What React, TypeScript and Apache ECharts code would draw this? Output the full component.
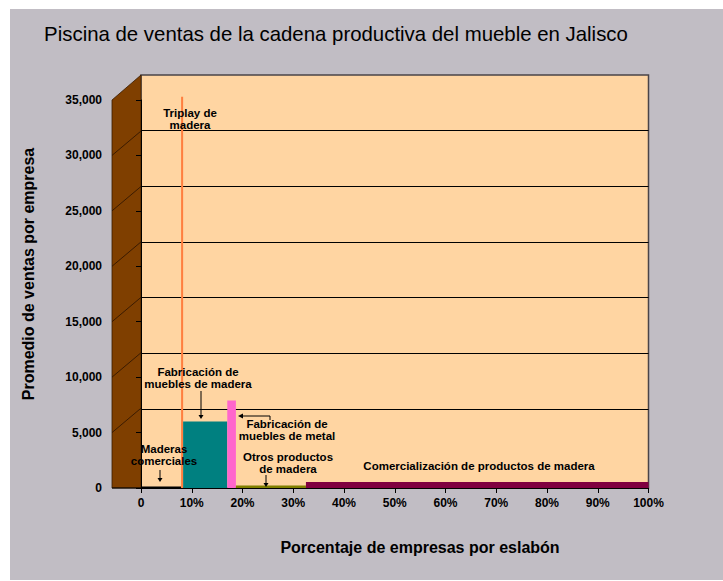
import React, { useEffect, useRef } from "react";
import * as echarts from "echarts";

// ---- data ----
const segments = [
  "Maderas comerciales",
  "Triplay de madera",
  "Fabricación de muebles de madera",
  "Fabricación de muebles de metal",
  "Otros productos de madera",
  "Comercialización de productos de madera",
];
const firmShare = [7.9, 0.4, 8.7, 1.7, 13.8, 67.5]; // % of firms per link
const avgSales = [130, 35300, 6000, 7900, 220, 550]; // average sales per firm
const segmentColors = ["#000000", "#FF7F3F", "#008080", "#FF66CC", "#808000", "#800040"];
const yMax = 35000;
const yStep = 5000;
const xMax = 100;
const xStep = 10;
const wallTickValues = [5000, 10000, 15000, 20000, 25000, 30000];

const titleText = "Piscina de ventas de la cadena productiva del mueble en Jalisco";
const yTitle = "Promedio de ventas por empresa";
const xTitle = "Porcentaje de empresas por eslabón";

const FONT = '"Liberation Sans", Arial, Helvetica, sans-serif';

export default function App() {
  const ref = useRef<HTMLDivElement>(null);

  useEffect(() => {
    if (!ref.current) return;
    const chart = echarts.init(ref.current, undefined, { renderer: "svg" });

    let acc = 0;
    const barData = firmShare.map((w, i) => {
      const start = acc;
      acc += w;
      return { name: segments[i], value: [start, acc, avgSales[i]] };
    });

    const depthX = 29;
    const depthY = 25;

    const label = (text: string, x: number, y: number, extra: any = {}) => ({
      type: "text",
      z: 20,
      style: {
        text,
        x,
        y,
        align: "center",
        verticalAlign: "middle",
        font: `bold 11.5px ${FONT}`,
        lineHeight: 12,
        fill: "#000",
        ...extra,
      },
    });

    const downArrow = (x: number, y1: number, y2: number) => [
      { type: "line", z: 20, shape: { x1: x, y1, x2: x, y2: y2 - 3 }, style: { stroke: "#000", lineWidth: 1 } },
      { type: "polygon", z: 20, shape: { points: [[x - 2.5, y2 - 4], [x + 2.5, y2 - 4], [x, y2]] }, style: { fill: "#000" } },
    ];

    const option: any = {
      animation: false,
      backgroundColor: "#FFFFFF",
      grid: [
        { left: 141, right: 74.5, top: 100, bottom: 93, containLabel: false },
        { left: 141, right: 74.5, top: 75, bottom: 116.5, containLabel: false },
        {
          left: 141, right: 74.5, top: 75, bottom: 93, show: true,
          backgroundColor: "#FFD5A2", borderColor: "#4a4448", borderWidth: 1.5,
        },
      ],
      xAxis: [
        {
          gridIndex: 0, type: "value", min: 0, max: xMax, interval: xStep, z: 5,
          axisLine: { show: true, lineStyle: { color: "#000", width: 1 } },
          axisTick: { show: true, length: 5, lineStyle: { color: "#000" } },
          axisLabel: {
            margin: 9, color: "#000", fontWeight: "bold", fontSize: 12, fontFamily: FONT,
            formatter: (v: number) => (v === 0 ? "0" : v + "%"),
          },
          splitLine: { show: false },
        },
        { gridIndex: 1, type: "value", min: 0, max: xMax, show: false },
        { gridIndex: 2, type: "value", min: 0, max: xMax, show: false },
      ],
      yAxis: [
        {
          gridIndex: 0, type: "value", min: 0, max: yMax, interval: yStep, offset: depthX, z: 5,
          axisLine: { show: true, lineStyle: { color: "#000", width: 1 } },
          axisTick: { show: true, length: 5, lineStyle: { color: "#000" } },
          axisLabel: {
            margin: 10, color: "#000", fontWeight: "bold", fontSize: 12, fontFamily: FONT,
            formatter: (v: number) => v.toLocaleString("en-US"),
          },
          splitLine: { show: false },
        },
        {
          gridIndex: 1, type: "value", min: 0, max: yMax, interval: yStep,
          axisLine: { show: false }, axisTick: { show: false }, axisLabel: { show: false },
          splitLine: { show: true, showMinLine: false, showMaxLine: false, lineStyle: { color: "#000", width: 1 } },
        },
        { gridIndex: 2, type: "value", min: 0, max: yMax, show: false },
      ],
      series: [
        {
          name: "pared",
          type: "custom",
          xAxisIndex: 0,
          yAxisIndex: 0,
          clip: false,
          z: 1,
          silent: true,
          data: [[0, 0]],
          renderItem: (_p: any, api: any) => {
            const b = api.coord([0, 0]);
            const t = api.coord([0, yMax]);
            const children: any[] = [
              {
                type: "polygon",
                shape: {
                  points: [
                    [b[0] - depthX, b[1]],
                    [t[0] - depthX, t[1]],
                    [t[0], t[1] - depthY],
                    [b[0], b[1]],
                  ],
                },
                style: { fill: "#7F3F00", stroke: "#3a1c00", lineWidth: 0.8 },
              },
            ];
            wallTickValues.forEach((v) => {
              const p = api.coord([0, v]);
              children.push({
                type: "line",
                shape: { x1: p[0] - depthX, y1: p[1], x2: p[0], y2: p[1] - depthY + 0.6 },
                style: { stroke: "#2a1200", lineWidth: 0.8 },
              });
            });
            children.push({
              type: "line",
              shape: { x1: b[0] - depthX, y1: b[1], x2: b[0], y2: b[1] },
              style: { stroke: "#000", lineWidth: 1 },
            });
            return { type: "group", children };
          },
        },
        {
          name: "Promedio de ventas por empresa",
          type: "custom",
          xAxisIndex: 0,
          yAxisIndex: 0,
          z: 2,
          encode: { x: [0, 1], y: 2 },
          data: barData,
          renderItem: (params: any, api: any) => {
            const a = api.coord([api.value(0), api.value(2)]);
            const b = api.coord([api.value(1), 0]);
            return {
              type: "rect",
              shape: { x: a[0], y: a[1], width: b[0] - a[0], height: b[1] - a[1] },
              style: { fill: segmentColors[params.dataIndex] },
            };
          },
        },
      ],
      graphic: [
        { type: "rect", z: -100, silent: true, shape: { x: 10, y: 9, width: 713, height: 571 }, style: { fill: "#C1BDC4" } },
        {
          type: "text", z: 20,
          style: { text: titleText, x: 336, y: 34, align: "center", verticalAlign: "middle", font: `20.4px ${FONT}`, fill: "#000" },
        },
        {
          type: "text", z: 20, x: 28, y: 274, rotation: Math.PI / 2,
          style: { text: yTitle, x: 0, y: 0, align: "center", verticalAlign: "middle", font: `bold 16px ${FONT}`, fill: "#000" },
        },
        {
          type: "text", z: 20,
          style: { text: xTitle, x: 420, y: 547, align: "center", verticalAlign: "middle", font: `bold 16px ${FONT}`, fill: "#000" },
        },
        label("Triplay de\nmadera", 190, 119),
        label("Fabricación de\nmuebles de madera", 198, 378),
        label("Fabricación de\nmuebles de metal", 287, 430),
        label("Maderas\ncomerciales", 164, 455),
        label("Otros productos\nde madera", 288, 463),
        label(segments[5], 479, 466),
        ...downArrow(201, 391, 419),
        ...downArrow(160, 470, 482),
        ...downArrow(266, 475, 487),
        { type: "polyline", z: 20, shape: { points: [[270, 420], [270, 416], [242, 416]] }, style: { stroke: "#000", lineWidth: 1, fill: null } },
        { type: "polygon", z: 20, shape: { points: [[243, 413.5], [243, 418.5], [238, 416]] }, style: { fill: "#000" } },
      ],
    };

    chart.setOption(option);
    return () => chart.dispose();
  }, []);

  return (
    <div
      ref={ref}
      style={{ position: "fixed", left: 0, top: 0, width: 723, height: 581 }}
    />
  );
}
